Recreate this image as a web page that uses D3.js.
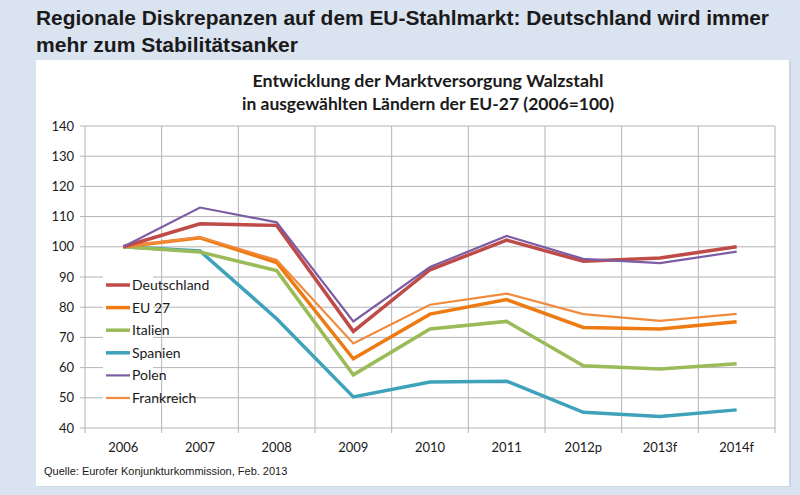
<!DOCTYPE html>
<html>
<head>
<meta charset="utf-8">
<script src="https://cdn.jsdelivr.net/npm/d3@7"></script>
<style>
  body { margin: 0; background: #dae3f0; }
  svg { display: block; }
</style>
</head>
<body>
<div id="chart"></div>
<script>
// categories and series (index 2006 = 100)
var years = ["2006", "2007", "2008", "2009", "2010", "2011", "2012p", "2013f", "2014f"];
var yTicks = [40, 50, 60, 70, 80, 90, 100, 110, 120, 130, 140];

var deutschland = [100, 107.6, 107.1, 72, 92.4, 102.2, 95.2, 96.3, 100];
var eu27 = [100, 103, 94.8, 62.9, 77.7, 82.5, 73.3, 72.8, 75.2];
var italien = [100, 98.3, 92.1, 57.6, 72.8, 75.3, 60.6, 59.5, 61.3];
var spanien = [100, 98.6, 76.2, 50.3, 55.2, 55.5, 45.2, 43.8, 46];
var polen = [100, 113, 108.1, 75.3, 93.3, 103.6, 96, 94.6, 98.4];
var frankreich = [100, 103.2, 95.6, 68, 80.8, 84.5, 77.7, 75.5, 77.8];

var seriesNames = ["Deutschland", "EU 27", "Italien", "Spanien", "Polen", "Frankreich"];
var seriesValues = [deutschland, eu27, italien, spanien, polen, frankreich];
var seriesColors = ["#be4b48", "#ee7a12", "#9bbb59", "#3ea2bb", "#7c5ca3", "#f08a3c"];
var seriesWidths = [3.5, 3.5, 3.5, 3.5, 2.2, 2.2];

var width = 800, height = 495;

var svg = d3.select("#chart").append("svg")
  .attr("width", width)
  .attr("height", height);

// page title
var title = svg.append("g")
  .style("font-family", "'Liberation Sans', Arial, sans-serif")
  .style("font-weight", "bold")
  .style("font-size", "20px")
  .attr("fill", "#1a1a1a");
title.append("text").attr("x", 36).attr("y", 25)
  .text("Regionale Diskrepanzen auf dem EU-Stahlmarkt: Deutschland wird immer")
  .attr("textLength", 733).attr("lengthAdjust", "spacingAndGlyphs");
title.append("text").attr("x", 36).attr("y", 52)
  .text("mehr zum Stabilitätsanker")
  .attr("textLength", 262).attr("lengthAdjust", "spacingAndGlyphs");

// white panel
svg.append("rect")
  .attr("x", 37).attr("y", 61).attr("width", 754).attr("height", 426)
  .attr("fill", "#ccd5e3");
svg.append("rect")
  .attr("x", 36).attr("y", 60).attr("width", 753).attr("height", 426)
  .attr("fill", "#ffffff");

// chart title
var ct = svg.append("g")
  .style("font-family", "Lato, 'Open Sans', sans-serif")
  .style("font-weight", "bold")
  .style("font-size", "17px")
  .attr("fill", "#1a1a1a")
  .attr("text-anchor", "middle");
ct.append("text").attr("x", 428).attr("y", 87)
  .text("Entwicklung der Marktversorgung Walzstahl")
  .attr("textLength", 351).attr("lengthAdjust", "spacingAndGlyphs");
ct.append("text").attr("x", 428).attr("y", 110)
  .text("in ausgewählten Ländern der EU-27 (2006=100)")
  .attr("textLength", 372).attr("lengthAdjust", "spacingAndGlyphs");

var margin = { left: 85, right: 775, top: 126, bottom: 428 };

var x = d3.scaleBand()
  .domain(years)
  .range([margin.left, margin.right]);

var y = d3.scaleLinear()
  .domain([40, 140])
  .range([margin.bottom, margin.top]);

var grid = svg.append("g");
var gridColor = "#b4b4b4";

// horizontal grid
grid.selectAll(".hgrid")
  .data(yTicks)
  .enter().append("line")
  .attr("x1", margin.left - 5)
  .attr("x2", margin.right)
  .attr("y1", d => y(d))
  .attr("y2", d => y(d))
  .attr("stroke", gridColor)
  .attr("stroke-width", 1);

// vertical grid at band edges
var edges = years.map(d => x(d)).concat([x(years[years.length - 1]) + x.bandwidth()]);
grid.selectAll(".vgrid")
  .data(edges)
  .enter().append("line")
  .attr("x1", d => d)
  .attr("x2", d => d)
  .attr("y1", margin.top)
  .attr("y2", margin.bottom + 5)
  .attr("stroke", gridColor)
  .attr("stroke-width", 1);

// y axis labels
svg.append("g")
  .style("font-family", "Lato, 'Open Sans', sans-serif")
  .style("font-size", "13px")
  .attr("fill", "#1a1a1a")
  .selectAll("text")
  .data(yTicks)
  .enter().append("text")
  .attr("x", 74)
  .attr("y", d => y(d))
  .attr("dy", "0.35em")
  .attr("text-anchor", "end")
  .text(d => d);

// x axis labels
svg.append("g")
  .style("font-family", "Lato, 'Open Sans', sans-serif")
  .style("font-size", "13px")
  .attr("fill", "#1a1a1a")
  .selectAll("text")
  .data(years)
  .enter().append("text")
  .attr("x", d => x(d) + x.bandwidth() / 2)
  .attr("y", 452)
  .attr("text-anchor", "middle")
  .text(d => d);

// lines
var line = d3.line()
  .x((d, i) => x(years[i]) + x.bandwidth() / 2)
  .y(d => y(d));

var drawOrder = [3, 2, 1, 5, 0, 4];
svg.append("g")
  .selectAll("path")
  .data(drawOrder)
  .enter().append("path")
  .attr("d", i => line(seriesValues[i]))
  .attr("fill", "none")
  .attr("stroke", i => seriesColors[i])
  .attr("stroke-width", i => seriesWidths[i])
  .attr("stroke-linejoin", "miter");

// legend
var legend = svg.append("g")
  .attr("transform", "translate(106,285)")
  .style("font-family", "Lato, 'Open Sans', sans-serif")
  .style("font-size", "14px")
  .attr("fill", "#1a1a1a");

var item = legend.selectAll(".item")
  .data(seriesNames)
  .enter().append("g")
  .attr("transform", (d, i) => "translate(0," + (i * 22.6) + ")");

item.append("rect")
  .attr("x", -3).attr("y", -9).attr("width", 50).attr("height", 18)
  .attr("fill", "#ffffff");
item.append("line")
  .attr("x1", 0).attr("x2", 24)
  .attr("stroke", (d, i) => seriesColors[i])
  .attr("stroke-width", (d, i) => seriesWidths[i]);
item.append("text")
  .attr("x", 26).attr("dy", "0.35em")
  .text(d => d);

// source
svg.append("text")
  .attr("x", 44).attr("y", 475)
  .style("font-family", "'Liberation Sans', Arial, sans-serif")
  .style("font-size", "11px")
  .attr("fill", "#1a1a1a")
  .text("Quelle: Eurofer Konjunkturkommission, Feb. 2013");
</script>
</body>
</html>
